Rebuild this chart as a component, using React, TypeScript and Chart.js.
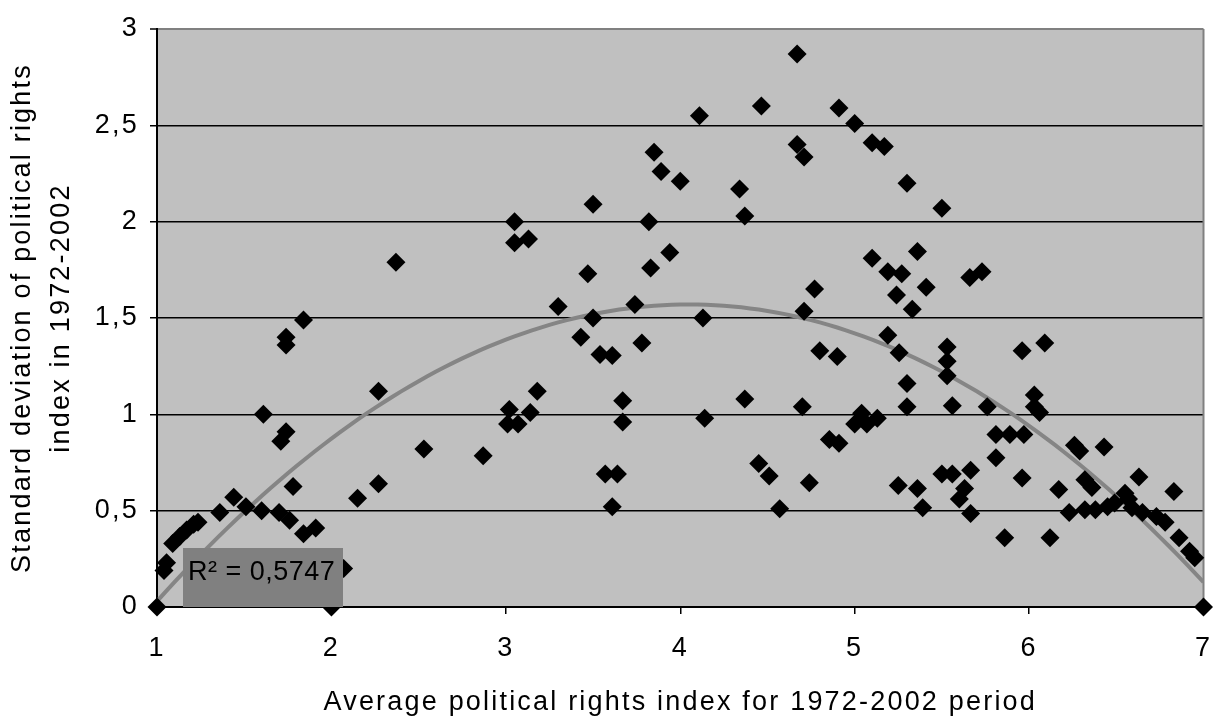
import React, { useEffect, useRef } from 'react';
import { Chart, registerables } from 'chart.js';

Chart.register(...registerables);

// Average political rights index 1972-2002 (x)
const avgRights = [
  1.00, 1.04, 1.055, 1.09, 1.13, 1.17, 1.21, 1.235, 1.36, 1.44,
  1.51, 1.60, 1.61, 1.70, 1.76, 1.71, 1.74, 1.78, 1.74, 1.74,
  1.84, 1.84, 1.91, 2.00, 2.07, 2.15, 2.27, 2.27, 2.37, 2.53,
  2.87, 3.05, 3.05, 3.13, 3.02, 3.01, 3.07, 3.14, 3.18, 3.30,
  3.43, 3.47, 3.50, 3.50, 3.54, 3.61, 3.57, 3.64, 3.61, 3.67,
  3.67, 3.74, 3.78, 3.82, 3.83, 3.94, 3.85, 3.89, 4.00, 4.11,
  4.13, 4.14, 4.34, 4.37, 4.37, 4.45, 4.51, 4.465, 4.57, 4.67,
  4.67, 4.71, 4.70, 4.71, 4.74, 4.77, 4.80, 4.855, 4.91, 4.90,
  4.91, 5.00, 5.00, 5.04, 5.07, 5.13, 5.10, 5.17, 5.10, 5.19,
  5.27, 5.19, 5.24, 5.255, 5.30, 5.30, 5.30, 5.25, 5.33, 5.36,
  5.36, 5.39, 5.41, 5.50, 5.50, 5.53, 5.53, 5.53, 5.56, 5.56,
  5.66, 5.73, 5.665, 5.63, 5.60, 5.665, 5.76, 5.81, 5.89, 5.97,
  5.81, 5.96, 5.86, 5.96, 6.09, 6.03, 6.03, 6.06, 6.12, 6.17,
  6.23, 6.26, 6.29, 6.43, 6.32, 6.36, 6.32, 6.38, 6.45, 6.49,
  6.55, 6.57, 6.63, 6.59, 6.65, 6.73, 6.78, 6.83, 6.86, 6.92,
  6.95, 7.00,
];

// Standard deviation of political rights index 1972-2002 (y)
const sdRights = [
  0.00, 0.19, 0.23, 0.33, 0.366, 0.40, 0.43, 0.44, 0.49, 0.57,
  0.52, 0.50, 1.00, 0.49, 0.45, 0.86, 0.91, 0.625, 1.36, 1.40,
  1.49, 0.38, 0.41, 0.00, 0.20, 0.565, 0.64, 1.12, 1.79, 0.82,
  0.785, 2.00, 1.89, 1.91, 1.025, 0.95, 0.95, 1.01, 1.12, 1.56,
  1.40, 1.73, 2.09, 1.50, 1.31, 1.305, 0.69, 0.69, 0.52, 1.07,
  0.96, 1.57, 1.37, 2.00, 1.76, 1.84, 2.36, 2.26, 2.21, 2.55,
  1.50, 0.98, 2.17, 2.03, 1.08, 0.745, 0.68, 2.60, 0.51, 2.87,
  2.40, 2.335, 1.04, 1.535, 0.645, 1.65, 1.33, 0.87, 0.85, 1.30,
  2.59, 2.51, 0.95, 1.005, 0.95, 0.98, 2.41, 2.39, 1.81, 1.74,
  1.73, 1.41, 1.62, 1.32, 2.20, 1.16, 1.04, 0.63, 1.545, 1.845,
  0.615, 0.515, 1.66, 2.07, 0.69, 1.35, 1.275, 1.20, 1.045, 0.69,
  1.71, 1.74, 0.71, 0.615, 0.56, 0.485, 1.04, 0.895, 0.895, 0.895,
  0.775, 0.67, 0.36, 1.33, 1.37, 1.10, 1.04, 1.01, 0.36, 0.61,
  0.49, 0.84, 0.81, 0.83, 0.66, 0.62, 0.505, 0.505, 0.52, 0.54,
  0.59, 0.56, 0.675, 0.515, 0.49, 0.47, 0.44, 0.60, 0.36, 0.29,
  0.255, 0.00,
];

const xTicks = [1, 2, 3, 4, 5, 6, 7];
const yTicks = [0, 0.5, 1, 1.5, 2, 2.5, 3];
// Order-2 polynomial trendline (c0 + c1·x + c2·x²)
const trendCoeffs = [-1.1463, 1.3414, -0.1656];
const rSquaredLabel = 'R² = 0,5747';
const xTitle = 'Average political rights index for 1972-2002 period';
const yTitle = ['Standard deviation of political rights', 'index in 1972-2002'];

const FONT = '"Liberation Sans", Arial, Helvetica, sans-serif';

const plotFrame = {
  id: 'plotFrame',
  beforeDraw(chart: any) {
    const { ctx, chartArea: a } = chart;
    ctx.save();
    ctx.fillStyle = '#c0c0c0';
    ctx.fillRect(a.left, a.top, a.right - a.left, a.bottom - a.top);
    ctx.restore();
    ctx.letterSpacing = '2.2px';
  },
  beforeDatasetsDraw(chart: any) {
    const { ctx, chartArea: a } = chart;
    ctx.save();
    ctx.strokeStyle = '#808080';
    ctx.lineWidth = 2;
    ctx.beginPath();
    ctx.moveTo(a.right, a.top);
    ctx.lineTo(a.right, a.bottom);
    ctx.stroke();
    ctx.restore();
  },
  afterDatasetsDraw(chart: any) {
    const { ctx, chartArea: a } = chart;
    ctx.save();
    const x0 = a.left + 26;
    const x1 = a.left + 186;
    const y0 = a.bottom - 59;
    const y1 = a.bottom;
    ctx.fillStyle = '#808080';
    ctx.fillRect(x0, y0, x1 - x0, y1 - y0);
    ctx.letterSpacing = '0.5px';
    ctx.fillStyle = '#000';
    ctx.font = '27px ' + FONT;
    ctx.textAlign = 'left';
    ctx.textBaseline = 'middle';
    ctx.fillText(rSquaredLabel, x0 + 5, y0 + 25);
    ctx.restore();
  },
};

export default function App() {
  const ref = useRef<HTMLCanvasElement>(null);

  useEffect(() => {
    if (!ref.current) return;
    const [c0, c1, c2] = trendCoeffs;
    const trend: { x: number; y: number }[] = [];
    const x0 = xTicks[0];
    const x1 = xTicks[xTicks.length - 1];
    const steps = 120;
    for (let i = 0; i <= steps; i++) {
      const x = x0 + ((x1 - x0) * i) / steps;
      trend.push({ x, y: c0 + c1 * x + c2 * x * x });
    }
    const points = avgRights.map((x, i) => ({ x, y: sdRights[i] }));

    const chart = new Chart(ref.current, {
      type: 'scatter',
      data: {
        datasets: [
          {
            label: 'Countries',
            data: points,
            pointStyle: 'rectRot',
            pointRadius: 9.5,
            pointHoverRadius: 9.5,
            backgroundColor: '#000',
            borderColor: '#000',
            borderWidth: 0,
            clip: false as any,
            order: 1,
          },
          {
            label: 'Poly. trend',
            type: 'line',
            data: trend,
            showLine: true,
            pointRadius: 0,
            borderColor: '#858585',
            borderWidth: 4,
            tension: 0,
            fill: false,
            order: 2,
          } as any,
        ],
      },
      options: {
        responsive: false,
        animation: false,
        events: [],
        layout: { padding: { left: 0, top: 29, right: 6, bottom: 0 } },
        plugins: {
          legend: { display: false },
          tooltip: { enabled: false },
        },
        scales: {
          x: {
            type: 'linear',
            min: xTicks[0],
            max: xTicks[xTicks.length - 1],
            afterBuildTicks: (s: any) => {
              s.ticks = xTicks.map((v) => ({ value: v }));
            },
            afterFit: (s: any) => {
              s.height = 109;
              s.paddingLeft = 0;
              s.paddingRight = 0;
            },
            grid: {
              drawOnChartArea: false,
              drawTicks: true,
              tickLength: 7,
              color: '#000',
              lineWidth: 1.5,
            },
            border: { display: true, color: '#000', width: 2 },
            ticks: {
              color: '#000',
              padding: 18,
              maxRotation: 0,
              font: { family: FONT, size: 27, lineHeight: 1.2 },
              callback: (v: any) => String(v).replace('.', ','),
            },
            title: {
              display: true,
              text: xTitle,
              color: '#000',
              padding: { top: 0, bottom: 0 },
              font: { family: FONT, size: 27, lineHeight: 1 },
            },
          },
          y: {
            type: 'linear',
            min: yTicks[0],
            max: yTicks[yTicks.length - 1],
            afterBuildTicks: (s: any) => {
              s.ticks = yTicks.map((v) => ({ value: v }));
            },
            afterFit: (s: any) => {
              s.width = 157;
              s.paddingTop = 0;
              s.paddingBottom = 0;
            },
            grid: {
              drawOnChartArea: true,
              drawTicks: true,
              tickLength: 7,
              color: (c: any) => (c.tick && c.tick.value === 3 ? '#808080' : '#000'),
              tickColor: '#000',
              lineWidth: (c: any) => (c.tick && c.tick.value === 3 ? 2 : 1.5),
              tickWidth: 1.5,
            },
            border: { display: true, color: '#000', width: 2 },
            ticks: {
              color: '#000',
              padding: 11,
              font: { family: FONT, size: 27, lineHeight: 1.2 },
              callback: (v: any) => String(v).replace('.', ','),
            },
            title: {
              display: true,
              text: yTitle,
              color: '#000',
              padding: { top: 3.5, bottom: 0 },
              font: { family: FONT, size: 27, lineHeight: 1.444 },
            },
          },
        },
      },
      plugins: [plotFrame],
    });
    return () => chart.destroy();
  }, []);

  return (
    <div style={{ position: 'absolute', left: 0, top: 0, width: 1213, height: 716, background: '#fff' }}>
      <canvas ref={ref} width={1213} height={716} style={{ display: 'block' }} />
    </div>
  );
}
